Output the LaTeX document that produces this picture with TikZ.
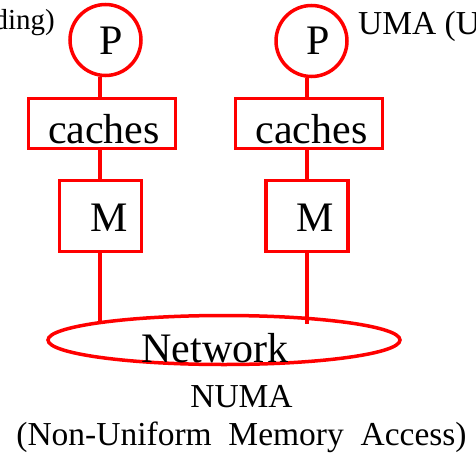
\documentclass[tikz,border=0pt]{standalone}
\usepackage{fontspec}
\setmainfont{Liberation Serif}
\usetikzlibrary{shapes.geometric,calc}
\definecolor{netred}{RGB}{255,0,0}
\tikzset{
  every picture/.style={x=1pt,y=-1pt},
  redline/.style={draw=netred,line width=3.5pt},
  proc/.style={circle,redline,minimum size=71pt,inner sep=0pt},
  cachebox/.style={rectangle,redline,minimum width=147pt,minimum height=50pt,inner sep=0pt},
  membox/.style={rectangle,redline,minimum width=82pt,minimum height=71pt,inner sep=0pt},
  net/.style={ellipse,redline,minimum width=352pt,minimum height=49pt,inner sep=0pt},
  big/.style={inner sep=0pt,anchor=base,font=\fontsize{42}{48}\selectfont},
  mid/.style={inner sep=0pt,anchor=base,font=\fontsize{33.5}{38}\selectfont},
  small/.style={inner sep=0pt,anchor=base,font=\fontsize{29}{34}\selectfont},
}
\begin{document}
\begin{tikzpicture}
\useasboundingbox (0,0) rectangle (476,460);
% shapes
\node[proc] (P1) at (105.5,40) {};
\node[proc] (P2) at (311.5,41) {};
\node[cachebox] (C1) at (102,123.5) {};
\node[cachebox] (C2) at (309,123.5) {};
\node[membox] (M1) at (100.5,216) {};
\node[membox] (M2) at (307,216) {};
\node[net] (N) at (224,340) {};
% connector x positions and free ends
\coordinate (a1) at (100,0);
\coordinate (a2) at (307,0);
\coordinate (e1) at (100,324);
\coordinate (e2) at (307,324);
% connectors
\draw[redline] (P1.south -| a1) -- (C1.north -| a1);
\draw[redline] (C1.south -| a1) -- (M1.north -| a1);
\draw[redline] (M1.south -| a1) -- (e1);
\draw[redline] (P2.south -| a2) -- (C2.north -| a2);
\draw[redline] (C2.south -| a2) -- (M2.north -| a2);
\draw[redline] (M2.south -| a2) -- (e2);
% texts
\node[big] (tP1) at (111,55) {P};
\node[big] (tP2) at (318.5,55) {P};
\node[big] (tC1) at (104,143) {caches};
\node[big] (tC2) at (311.5,143) {caches};
\node[big] (tM1) at (109,231) {M};
\node[big] (tM2) at (315.5,231) {M};
\node[big] (tN) at (215,362) {Network};
\node[mid] (tNUMA) at (241.5,407) {NUMA};
\node[mid] (tNUMAl) at (241.5,445) {(Non-Uniform\ \ Memory\ \ Access)};
\node[small,anchor=base east] (tL) at (55,29.5) {ding)};
\node[mid,anchor=base west] (tR) at (358,35) {UMA (U};
\end{tikzpicture}
\end{document}
